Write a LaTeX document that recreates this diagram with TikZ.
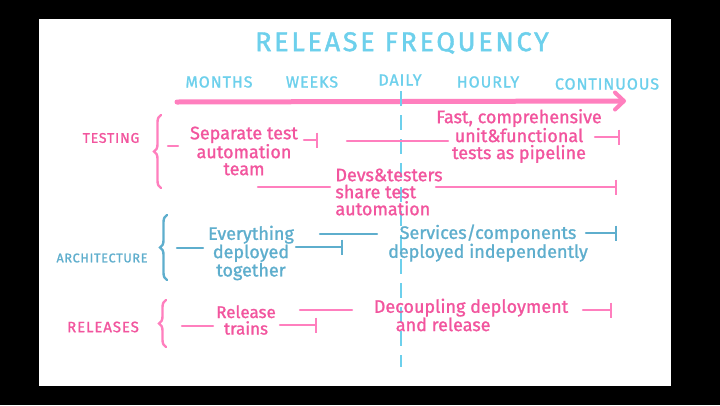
\documentclass[tikz,border=0pt]{standalone}
\usepackage{fontspec}
\setmainfont{Fira Sans}
\newfontfamily\handfont[FakeBold=1.2]{Fira Sans}
\newfontfamily\titlefont[LetterSpace=10,FakeBold=1.5]{Fira Sans}
\newfontfamily\capsfont[LetterSpace=6,FakeBold=1.2]{Fira Sans}
\usetikzlibrary{arrows.meta,decorations.pathreplacing}
\definecolor{pinktext}{HTML}{F2559E}
\definecolor{pinkline}{HTML}{FF7FBE}
\definecolor{skyblue}{HTML}{6DD0EC}
\definecolor{teal}{HTML}{5EAECD}
\tikzset{
  bodytext/.style={font=\handfont\fontsize{18}{17}\selectfont, align=center, inner sep=0pt},
  pinktxt/.style={bodytext, text=pinktext},
  tealtxt/.style={bodytext, text=teal},
  axislabel/.style={font=\capsfont\fontsize{16}{16}\selectfont, text=skyblue, inner sep=0pt},
  rowlabel/.style={font=\capsfont\fontsize{14}{14}\selectfont, inner sep=0pt},
  pinkrule/.style={draw=pinkline, line width=2.4pt, line cap=round},
  tealrule/.style={draw=teal, line width=2.4pt, line cap=round},
  pinkend/.style={pinkrule, -{Bar[width=15pt,line width=2.4pt]}},
  tealend/.style={tealrule, -{Bar[width=15pt,line width=2.4pt]}},
  bracepath/.style={line width=2.4pt, line cap=round, decorate,
    decoration={brace, amplitude=7pt}},
}
\begin{document}
\begin{tikzpicture}[x=1pt,y=-1pt]
\useasboundingbox (0,0) rectangle (720,405);
\fill[black] (0,0) rectangle (720,405);
\fill[white] (39,19) rectangle (671,386);

% title
\node[font=\titlefont\fontsize{27}{27}\selectfont, text=skyblue, inner sep=0pt] (title) at (402,43) {RELEASE FREQUENCY};

% axis labels
\node[axislabel] (months) at (219,82) {MONTHS};
\node[axislabel] (weeks) at (312,82) {WEEKS};
\node[axislabel] (daily) at (400,80) {DAILY};
\node[axislabel] (hourly) at (488,82) {HOURLY};
\node[axislabel] (cont) at (607,84) {CONTINUOUS};

% axis arrow
\coordinate (axL) at (177,102);
\coordinate (axR) at (626,101);
\draw[draw=pinkline, line width=5pt, line cap=round,
  -{Straight Barb[length=9pt,width=17pt,line width=4pt,round]}] (axL) -- (axR);

% dashed daily line
\coordinate (dTop) at (401,91);
\coordinate (dBot) at (401,367);
\draw[draw=skyblue, line width=2.4pt, dash pattern=on 15pt off 9pt] (dTop) -- (dBot);

% row labels
\node[rowlabel, text=pinktext] (testing) at (111,138) {TESTING};
\node[rowlabel, text=teal, font=\capsfont\fontsize{12.5}{12.5}\selectfont] (arch) at (102,258) {ARCHITECTURE};
\node[rowlabel, text=pinktext, font=\capsfont\fontsize{15}{15}\selectfont] (releases) at (103,327) {RELEASES};

% braces
\coordinate (b1b) at (161,188); \coordinate (b1t) at (161,115);
\coordinate (b2b) at (167,280); \coordinate (b2t) at (167,215);
\coordinate (b3b) at (166,347); \coordinate (b3t) at (166,300);
\draw[bracepath, draw=pinkline] (b1b) -- (b1t);
\draw[bracepath, draw=teal] (b2b) -- (b2t);
\draw[bracepath, draw=pinkline] (b3b) -- (b3t);

% ---------- testing row ----------
\node[pinktxt] (sep) at (244,151) {Separate test\\automation\\team};
\coordinate (s1a) at (168,146); \coordinate (s1b) at (178,146);
\draw[pinkrule] (s1a) -- (s1b);
\coordinate (s2a) at (304,140); \coordinate (s2b) at (318,140);
\draw[pinkend] (s2a) -- (s2b);

\node[pinktxt] (fast) at (519,136) {Fast, comprehensive\\unit\&functional\\tests as pipeline};
\coordinate (f1a) at (347,141); \coordinate (f1b) at (448,141);
\draw[pinkrule] (f1a) -- (f1b);
\coordinate (f2a) at (595,137); \coordinate (f2b) at (620,137);
\draw[pinkend] (f2a) -- (f2b);

\node[pinktxt, align=left] (devs) at (389,192) {Devs\&testers\\share test\\automation};
\coordinate (d1a) at (258,187); \coordinate (d1b) at (330,187);
\draw[pinkrule] (d1a) -- (d1b);
\coordinate (d2a) at (436,187); \coordinate (d2b) at (617,187);
\draw[pinkend] (d2a) -- (d2b);

% ---------- architecture row ----------
\node[tealtxt] (every) at (251,253) {Everything\\deployed\\together};
\coordinate (e1a) at (177,248); \coordinate (e1b) at (203,248);
\draw[tealrule] (e1a) -- (e1b);
\coordinate (e2a) at (296,247); \coordinate (e2b) at (343,247);
\draw[tealend] (e2a) -- (e2b);

\node[tealtxt] (serv) at (488,243) {Services/components\\deployed independently};
\coordinate (v1a) at (320,234); \coordinate (v1b) at (377,234);
\draw[tealrule] (v1a) -- (v1b);
\coordinate (v2a) at (586,233); \coordinate (v2b) at (617,233);
\draw[tealend] (v2a) -- (v2b);

% ---------- releases row ----------
\node[pinktxt, font=\handfont\fontsize{17}{16.5}\selectfont] (train) at (246,320) {Release\\trains};
\coordinate (r1a) at (182,326); \coordinate (r1b) at (213,326);
\draw[pinkrule] (r1a) -- (r1b);
\coordinate (r2a) at (280,325); \coordinate (r2b) at (317,325);
\draw[pinkend] (r2a) -- (r2b);

\node[pinktxt, align=left, font=\handfont\fontsize{18}{16}\selectfont] (decoup) at (471,315) {Decoupling deployment\\\hspace*{22pt}and release};
\coordinate (c1a) at (300,310); \coordinate (c1b) at (352,310);
\draw[pinkrule] (c1a) -- (c1b);
\coordinate (c2a) at (583,310); \coordinate (c2b) at (612,310);
\draw[pinkend] (c2a) -- (c2b);
\end{tikzpicture}
\end{document}
